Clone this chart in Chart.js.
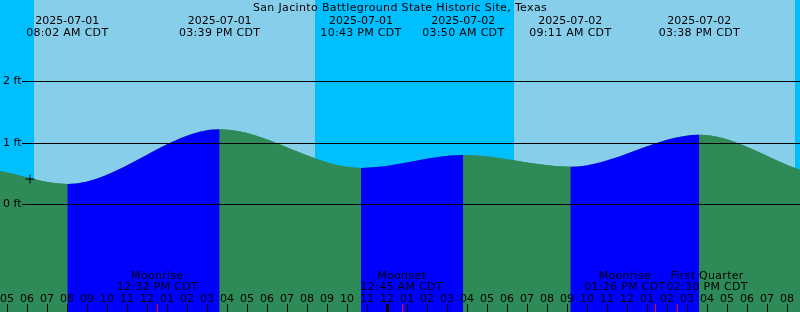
<!DOCTYPE html>
<html>
<head>
<meta charset="utf-8">
<script src="https://cdn.jsdelivr.net/npm/chart.js@4/dist/chart.umd.min.js"></script>
<style>
  html, body { margin: 0; padding: 0; background: #fff; }
  canvas { display: block; }
</style>
</head>
<body>
<canvas id="tideChart" width="800" height="312"></canvas>
<script>
// hours counted from 2025-07-01 00:00 CDT
const title = 'San Jacinto Battleground State Historic Site, Texas';
const viewHours = [4.667, 44.667];
const feetRange = [-1.75, 3.32];
const gridFeet = [0, 1, 2];

// high / low tides
const eventHours = [8.033, 15.65, 22.717, 27.833, 33.183, 39.633];
const eventFeet = [0.33, 1.22, 0.59, 0.80, 0.61, 1.13];
const eventDates = ['2025-07-01', '2025-07-01', '2025-07-01', '2025-07-02', '2025-07-02', '2025-07-02'];
const eventTimes = ['08:02 AM CDT', '03:39 PM CDT', '10:43 PM CDT', '03:50 AM CDT', '09:11 AM CDT', '03:38 PM CDT'];

// level at the left and right edges of the picture
const edgeHours = [4.667, 44.667];
const edgeFeet = [0.54, 0.56];

// sunrise, sunset, sunrise, sunset
const sunHours = [6.367, 20.417, 30.367, 44.417];

const moonHours = [12.533, 24.75, 37.433, 38.5];
const moonNames = ['Moonrise', 'Moonset', 'Moonrise', 'First Quarter'];
const moonTimes = ['12:32 PM CDT', '12:45 AM CDT', '01:26 PM CDT', '02:30 PM CDT'];

const nowHour = 6.167;
const nowFeet = 0.41;

const FONT = '11px "DejaVu Sans"';
const DAY = '#87ceeb', NIGHT = '#00bfff';
const RISING = '#0000ff', FALLING = '#2e8b57';

const curve = [{ x: edgeHours[0], y: edgeFeet[0] }]
    .concat(eventHours.map((h, i) => ({ x: h, y: eventFeet[i] })))
    .concat([{ x: edgeHours[1], y: edgeFeet[1] }]);

const skyPlugin = {
    id: 'sky',
    beforeDatasetsDraw(chart) {
        const { ctx, chartArea: { top, bottom, left, right }, scales: { x } } = chart;
        ctx.save();
        ctx.fillStyle = DAY;
        ctx.fillRect(left, top, right - left, bottom - top);
        // night: before first sunrise, between sunset and sunrise, after last sunset
        const edges = [viewHours[0]].concat(sunHours, [viewHours[1]]);
        ctx.fillStyle = NIGHT;
        for (let i = 0; i + 1 < edges.length; i += 2) {
            const x0 = Math.round(x.getPixelForValue(edges[i]));
            const x1 = Math.round(x.getPixelForValue(edges[i + 1]));
            ctx.fillRect(x0, top, x1 - x0, bottom - top);
        }
        ctx.restore();
    }
};

const labelPlugin = {
    id: 'labels',
    afterDatasetsDraw(chart) {
        const { ctx, chartArea: { top, bottom, left, right }, scales: { x, y } } = chart;
        ctx.save();
        ctx.font = FONT;
        ctx.fillStyle = '#000';
        ctx.strokeStyle = '#000';
        ctx.lineWidth = 1;

        // feet lines
        ctx.textBaseline = 'middle';
        gridFeet.forEach(f => {
            const py = Math.round(y.getPixelForValue(f)) + 0.5;
            ctx.beginPath();
            ctx.moveTo(left + 22, py);
            ctx.lineTo(right, py);
            ctx.stroke();
            ctx.textAlign = 'left';
            ctx.fillText(f + ' ft', left + 3, py);
        });

        // title and tide labels
        ctx.textBaseline = 'alphabetic';
        ctx.textAlign = 'center';
        ctx.letterSpacing = '0.35px';
        ctx.fillText(title, (left + right) / 2, top + 11);
        eventHours.forEach((h, i) => {
            const px = x.getPixelForValue(h);
            ctx.letterSpacing = '0px';
            ctx.fillText(eventDates[i], px, top + 23.7);
            ctx.letterSpacing = '0.3px';
            ctx.fillText(eventTimes[i], px, top + 36);
        });
        ctx.letterSpacing = '0px';

        // hour ticks
        for (let h = Math.ceil(viewHours[0]); h <= viewHours[1]; h++) {
            const px = Math.round(x.getPixelForValue(h));
            const hh = (h % 12) || 12;
            ctx.fillText(String(hh).padStart(2, '0'), px, bottom - 10);
            const w = (h % 24 === 0) ? 3 : 1;
            ctx.fillRect(px - Math.floor(w / 2), bottom - 8, w, 8);
        }

        // moon events, labels pushed apart where they would overlap
        ctx.letterSpacing = '0.3px';
        const boxes = moonHours.map((h, i) => {
            const w = Math.max(ctx.measureText(moonNames[i]).width, ctx.measureText(moonTimes[i]).width);
            return { cx: x.getPixelForValue(h), w: w };
        });
        for (let i = 1; i < boxes.length; i++) {
            const a = boxes[i - 1], b = boxes[i];
            const overlap = (a.cx + a.w / 2) - (b.cx - b.w / 2) + 1;
            if (overlap > 0) {
                a.cx -= overlap / 2;
                b.cx += overlap / 2;
            }
        }
        moonHours.forEach((h, i) => {
            ctx.fillStyle = '#000';
            ctx.fillText(moonNames[i], boxes[i].cx, bottom - 33);
            ctx.fillText(moonTimes[i], boxes[i].cx, bottom - 22);
            ctx.fillStyle = '#ff0000';
            ctx.fillRect(Math.round(x.getPixelForValue(h)), bottom - 8, 1, 8);
        });
        ctx.restore();
    }
};

new Chart(document.getElementById('tideChart'), {
    type: 'line',
    plugins: [skyPlugin, labelPlugin],
    data: {
        datasets: [
            {
                data: [{ x: nowHour, y: nowFeet }],
                showLine: false,
                pointStyle: 'cross',
                pointRadius: 4.5,
                borderColor: '#000',
                borderWidth: 1,
                order: 0
            },
            {
                // rising tide blue, falling tide green
                data: curve,
                fill: 'start',
                borderWidth: 0,
                pointRadius: 0,
                cubicInterpolationMode: 'monotone',
                backgroundColor: FALLING,
                segment: {
                    backgroundColor: c => c.p1.parsed.y > c.p0.parsed.y ? RISING : FALLING
                },
                order: 1
            },
            {
                // plain underlay so no sky shows through the seams
                data: curve,
                fill: 'start',
                borderWidth: 0,
                pointRadius: 0,
                cubicInterpolationMode: 'monotone',
                backgroundColor: FALLING,
                order: 2
            }
        ]
    },
    options: {
        responsive: false,
        animation: false,
        events: [],
        layout: { padding: 0, autoPadding: false },
        plugins: { legend: { display: false }, tooltip: { enabled: false } },
        scales: {
            x: { type: 'linear', display: false, min: viewHours[0], max: viewHours[1] },
            y: { type: 'linear', display: false, min: feetRange[0], max: feetRange[1] }
        }
    }
});
</script>
</body>
</html>
